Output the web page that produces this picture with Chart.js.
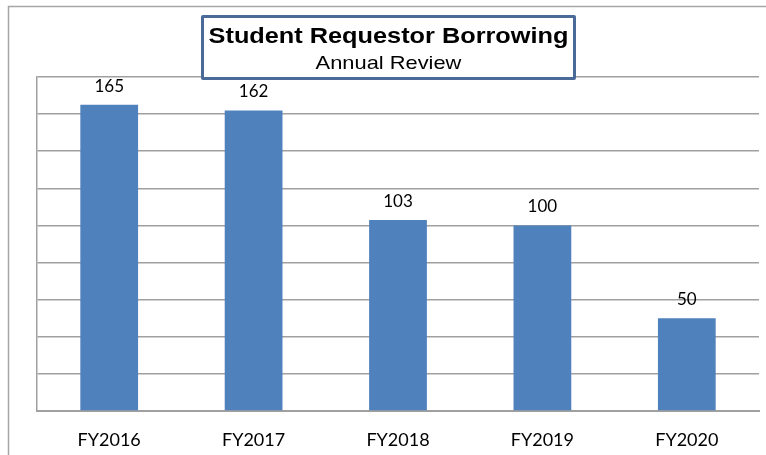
<!DOCTYPE html>
<html>
<head>
<meta charset="utf-8">
<script src="https://cdn.jsdelivr.net/npm/chart.js@4.4.1/dist/chart.umd.min.js"></script>
<style>
  html, body { margin: 0; padding: 0; background: #fff; }
  #wrap { position: relative; width: 766px; height: 455px; }
  #chart { position: absolute; left: 0; top: 0; }
  #titleBox {
    position: absolute; left: 201px; top: 15px; width: 369px; height: 59px;
    border: 3px solid #4a6a97; border-radius: 2px; background: #fff;
    text-align: center; font-family: "Liberation Sans", Arial, sans-serif; color: #000;
  }
  #titleBox div { transform: scaleX(1.15); transform-origin: center; white-space: nowrap; }
  #titleBox .main { font-weight: bold; font-size: 22px; line-height: 24px; margin-top: 6px; }
  #titleBox .sub { font-size: 19px; line-height: 22px; margin-top: 4px; }
</style>
</head>
<body>
<div id="wrap">
  <canvas id="chart" width="766" height="455"></canvas>
  <div id="titleBox">
    <div class="main">Student Requestor Borrowing</div>
    <div class="sub">Annual Review</div>
  </div>
</div>
<script>
const categories = ['FY2016', 'FY2017', 'FY2018', 'FY2019', 'FY2020'];
const borrowing = [165, 162, 103, 100, 50];
const yMax = 180;
const yStep = 20;

// outer frame lines (left + top only are visible)
const framePlugin = {
  id: 'frame',
  beforeDraw(chart) {
    const ctx = chart.ctx;
    ctx.save();
    ctx.strokeStyle = '#a6a6a6';
    ctx.lineWidth = 1.5;
    ctx.beginPath();
    ctx.moveTo(8.5, 455);
    ctx.lineTo(8.5, 6.5);
    ctx.lineTo(766, 6.5);
    ctx.stroke();
    ctx.restore();
  }
};

// value labels above bars
const valueLabels = {
  id: 'valueLabels',
  afterDatasetsDraw(chart) {
    const ctx = chart.ctx;
    const meta = chart.getDatasetMeta(0);
    ctx.save();
    ctx.fillStyle = '#000';
    ctx.font = '17px Lato, sans-serif';
    ctx.textAlign = 'center';
    ctx.textBaseline = 'alphabetic';
    meta.data.forEach((bar, i) => {
      ctx.fillText(String(borrowing[i]), bar.x, bar.y - 13);
    });
    ctx.restore();
  }
};

new Chart(document.getElementById('chart'), {
  type: 'bar',
  data: {
    labels: categories,
    datasets: [{
      data: borrowing,
      backgroundColor: '#4f81bd',
      borderWidth: 0,
      categoryPercentage: 1,
      barPercentage: 0.4
    }]
  },
  options: {
    responsive: false,
    animation: false,
    layout: { padding: { left: 37, right: 7, top: 77, bottom: 0 } },
    plugins: {
      legend: { display: false },
      title: { display: false },
      tooltip: { enabled: false }
    },
    scales: {
      x: {
        grid: { display: false, drawTicks: false },
        border: { display: true, color: '#a0a0a0', width: 2 },
        ticks: { color: '#000', font: { family: 'Lato, sans-serif', size: 18 }, padding: 18 },
        afterFit(scale) { scale.height = 44; }
      },
      y: {
        min: 0,
        max: yMax,
        grid: { color: '#a0a0a0', lineWidth: 1.5, drawTicks: false },
        border: { display: true, color: '#a0a0a0', width: 1.5 },
        ticks: { display: false, stepSize: yStep },
        afterFit(scale) { scale.width = 0; }
      }
    }
  },
  plugins: [framePlugin, valueLabels]
});
</script>
</body>
</html>
